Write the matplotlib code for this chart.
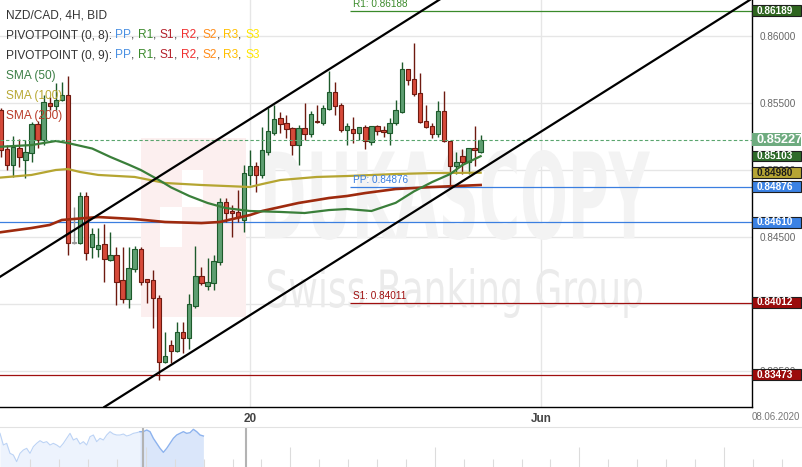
import numpy as np
import matplotlib
matplotlib.use("Agg")
import matplotlib.pyplot as plt
import matplotlib.transforms as mtransforms
from matplotlib.font_manager import FontProperties
from matplotlib.patches import PathPatch, Rectangle
from matplotlib.textpath import TextPath

plt.rcParams["font.family"] = ["Liberation Sans", "DejaVu Sans"]

W, H = 803, 467
PLOT_W, PLOT_H = 752.5, 407

# 4H bars, index 0 = 20 May 00:00 (weekends skipped, 6 bars a day)
bar_idx = np.arange(-41, 39)
opens = [0.85447, 0.85156, 0.85037, 0.85164, 0.85074, 0.85127, 0.85343, 0.85224,
         0.85500, 0.85477, 0.85522, 0.85559, 0.84455, 0.84455, 0.84806, 0.84425,
         0.84411, 0.84448, 0.84328, 0.84366, 0.84179, 0.84038, 0.84261, 0.84411,
         0.84187, 0.84179, 0.84045, 0.83568, 0.83694, 0.83650, 0.83791, 0.83747,
         0.83985, 0.84209, 0.84134, 0.84157, 0.84314, 0.84761, 0.84694, 0.84687,
         0.84627, 0.84963, 0.85030, 0.84963, 0.85134, 0.85276, 0.85388, 0.85350,
         0.85313, 0.85186, 0.85313, 0.85268, 0.85365, 0.85350, 0.85455, 0.85582,
         0.85485, 0.85298, 0.85306, 0.85276, 0.85321, 0.85209, 0.85328, 0.85298,
         0.85276, 0.85350, 0.85432, 0.85753, 0.85679, 0.85574, 0.85365, 0.85328,
         0.85268, 0.85440, 0.85216, 0.85030, 0.85104, 0.85059, 0.85164, 0.85134]
highs = [0.85462, 0.85186, 0.85253, 0.85231, 0.85224, 0.85358, 0.85365, 0.85559,
         0.85544, 0.85649, 0.85656, 0.85701, 0.84724, 0.84836, 0.84836, 0.84567,
         0.84567, 0.84597, 0.84537, 0.84425, 0.84425, 0.84425, 0.84433, 0.84425,
         0.84187, 0.84254, 0.84067, 0.83791, 0.83732, 0.83866, 0.83866, 0.84075,
         0.84433, 0.84276, 0.84343, 0.84366, 0.84791, 0.84791, 0.84739, 0.84851,
         0.85037, 0.85149, 0.85059, 0.85321, 0.85462, 0.85485, 0.85432, 0.85410,
         0.85321, 0.85335, 0.85500, 0.85440, 0.85485, 0.85485, 0.85738, 0.85656,
         0.85500, 0.85350, 0.85395, 0.85321, 0.85335, 0.85328, 0.85335, 0.85328,
         0.85388, 0.85522, 0.85806, 0.85753, 0.85947, 0.85724, 0.85485, 0.85350,
         0.85515, 0.85589, 0.85216, 0.85134, 0.85156, 0.85164, 0.85328, 0.85261]
lows = [0.85097, 0.85000, 0.84948, 0.85022, 0.84940, 0.85059, 0.85164, 0.85186,
        0.85447, 0.85447, 0.85515, 0.84366, 0.84448, 0.84448, 0.84328, 0.84343,
        0.84351, 0.84164, 0.84321, 0.83993, 0.84008, 0.83970, 0.84239, 0.84142,
        0.84008, 0.83821, 0.83433, 0.83560, 0.83560, 0.83642, 0.83635, 0.83668,
        0.83970, 0.84142, 0.84105, 0.84105, 0.84291, 0.84612, 0.84500, 0.84612,
        0.84537, 0.84888, 0.84836, 0.84940, 0.85112, 0.85261, 0.85276, 0.85238,
        0.85112, 0.85037, 0.85224, 0.85246, 0.85350, 0.85335, 0.85447, 0.85410,
        0.85283, 0.85186, 0.85201, 0.85224, 0.85156, 0.85186, 0.85261, 0.85246,
        0.85186, 0.85335, 0.85425, 0.85634, 0.85552, 0.85350, 0.85313, 0.85238,
        0.85246, 0.85209, 0.84873, 0.84970, 0.84970, 0.84970, 0.85030, 0.85127]
closes = [0.85149, 0.85037, 0.85171, 0.85097, 0.85134, 0.85343, 0.85224, 0.85507,
          0.85477, 0.85522, 0.85559, 0.84455, 0.84455, 0.84806, 0.84381, 0.84522,
          0.84440, 0.84336, 0.84366, 0.84164, 0.84038, 0.84269, 0.84411, 0.84164,
          0.84164, 0.84045, 0.83568, 0.83612, 0.83650, 0.83791, 0.83747, 0.84000,
          0.84209, 0.84157, 0.84164, 0.84321, 0.84761, 0.84679, 0.84679, 0.84649,
          0.84977, 0.85030, 0.84963, 0.85149, 0.85291, 0.85380, 0.85343, 0.85306,
          0.85186, 0.85313, 0.85268, 0.85418, 0.85358, 0.85462, 0.85582, 0.85477,
          0.85298, 0.85328, 0.85276, 0.85321, 0.85216, 0.85328, 0.85291, 0.85283,
          0.85350, 0.85447, 0.85753, 0.85671, 0.85567, 0.85358, 0.85321, 0.85268,
          0.85440, 0.85216, 0.85030, 0.85059, 0.85059, 0.85164, 0.85149, 0.85227]

day_ticks = [0, 48]
day_labels = ["20", "Jun"]

price_ticks = [0.835, 0.84, 0.845, 0.85, 0.855, 0.86]
price_labels = ["0.83500", "", "0.84500", "0.85000", "0.85500", "0.86000"]

# moving averages, sampled along the bars
sma50_idx = [-42, -36, -32, -30, -26, -23, -20, -18, -15, -13, -10, -7, -4,
             0, 5, 9, 13, 16, 20, 24, 27, 30, 33, 35, 38]
sma50 = [0.85171, 0.85186, 0.85216, 0.85201, 0.85160, 0.85097, 0.85040, 0.85000,
         0.84925, 0.84870, 0.84806, 0.84754, 0.84716, 0.84694, 0.84687, 0.84679,
         0.84701, 0.84709, 0.84694, 0.84755, 0.84840, 0.84910, 0.84970, 0.85037,
         0.85103]
sma100_idx = [-42, -36, -32, -30, -28, -25, -19, -14, -8, 0, 2, 5, 11, 16, 24, 30, 38]
sma100 = [0.84940, 0.84963, 0.85000, 0.85007, 0.84985, 0.84963, 0.84948, 0.84903,
          0.84888, 0.84873, 0.84895, 0.84925, 0.84948, 0.84955, 0.84970, 0.84977,
          0.84980]
sma200_idx = [-42, -36, -33, -31, -27, -25, -19, -14, -8, -5, 0, 2, 5, 8, 11, 13,
              16, 19, 24, 30, 38]
sma200 = [0.84530, 0.84567, 0.84590, 0.84627, 0.84642, 0.84649, 0.84634, 0.84612,
          0.84604, 0.84612, 0.84664, 0.84694, 0.84724, 0.84754, 0.84776, 0.84791,
          0.84806, 0.84828, 0.84858, 0.84873, 0.84888]

# trend channel, two anchor points per line
chan_upper_x, chan_upper_y = [-42, 32], [0.84180, 0.86293]
chan_lower_x, chan_lower_y = [-24, 83], [0.83232, 0.86287]

# pivot levels
pivot_start = 16.5
r1_new, pp_new, s1_new = 0.86188, 0.84876, 0.84011
pp_old, s1_old = 0.84610, 0.83473
last_price = 0.85227

tag_values = [0.86189, 0.85227, 0.85103, 0.84980, 0.84876, 0.84610, 0.84012, 0.83473]
tag_faces = ["#2e651f", "#6eab7f", "#2e6b2a", "#b6a534", "#3b82e4", "#3b82e4",
             "#9b0b0b", "#9b0b0b"]
tag_text = ["white", "white", "white", "#1a1a1a", "white", "white", "white", "white"]

# overview strip under the chart
nav_level = [90, 55, 60, 30, 25, 5, 30, 40, 45, 30, 50, 60, 68, 62, 65, 55, 60, 55,
             48, 60, 75, 90, 70, 75, 58, 65, 55, 80, 85, 65, 75, 70, 85, 95, 88, 85,
             85, 88, 82, 85, 90, 92, 95, 95, 100, 95, 75, 60, 45, 33, 45, 60, 75, 85,
             90, 95, 90, 92, 102, 95, 85, 82]

GREEN_FILL, GREEN_EDGE = "#5e9e71", "#1d5a2b"
RED_FILL, RED_EDGE = "#d64a3a", "#6e1a10"
GREY = "#9a9a9a"

fig = plt.figure(figsize=(W / 100, H / 100), dpi=100)
ax = fig.add_axes([0, 60 / H, PLOT_W / W, PLOT_H / H])
ax.set_xlim(-41.19, 82.79)
ax.set_ylim(0.83232, 0.86268)
ylo, yhi = ax.get_ylim()
data_per_px = (yhi - ylo) / PLOT_H


def fig_xy(x, y):
    return x / W, 1 - y / H


def text_patch(text, box, weight, color, z):
    left, top, right, bottom = box
    path = TextPath((0, 0), text, size=100,
                    prop=FontProperties(family="DejaVu Sans", weight=weight))
    ext = path.get_extents()
    tr = (mtransforms.Affine2D()
          .translate(-ext.x0, -ext.y0)
          .scale((right - left) / ext.width, (bottom - top) / ext.height)
          .translate(left, H - bottom))
    ax.add_patch(PathPatch(path, transform=tr, facecolor=color,
                           edgecolor="none", zorder=z))


def px_rect(left, top, right, bottom, color, z):
    ax.add_patch(Rectangle((left, H - bottom), right - left, bottom - top,
                           transform=mtransforms.IdentityTransform(),
                           facecolor=color, edgecolor="none", zorder=z))


# watermark
px_rect(141, 138, 246, 317, "#fcefef", 0.8)
px_rect(160, 207, 182, 247, "white", 0.85)
px_rect(182, 170, 203, 207, "white", 0.85)
text_patch("DUKASCOPY", (265, 150, 650, 240), "bold", "#f3f3f3", 0.9)
text_patch("Swiss Banking Group", (268, 268, 642, 318), "normal", "#ebebeb", 0.9)

# grid and frame
ax.set_axisbelow(True)
ax.grid(True, color="#e6e6e6", lw=1.0)
for side in ("top", "left"):
    ax.spines[side].set_visible(False)
for side in ("right", "bottom"):
    ax.spines[side].set_color("black")
    ax.spines[side].set_linewidth(1.0)

ax.yaxis.tick_right()
ax.set_yticks(price_ticks, price_labels)
ax.tick_params(axis="y", length=0, pad=5, labelsize=7.2, labelcolor="#666666")
ax.set_xticks(day_ticks, day_labels)
ax.tick_params(axis="x", length=0, pad=4, labelsize=8.5, labelcolor="#444444")
for lbl in ax.get_xticklabels():
    lbl.set_fontweight("bold")

# pivot levels
ax.axhline(pp_old, color="#3b7fe0", lw=0.9, zorder=2)
ax.axhline(s1_old, color="#a00f0f", lw=0.9, zorder=2)
for val, col, name in [(r1_new, "#3a8a2a", "R1"), (pp_new, "#3b7fe0", "PP"),
                       (s1_new, "#a00f0f", "S1")]:
    ax.hlines(val, pivot_start, ax.get_xlim()[1], color=col, lw=0.9, zorder=2)
    ax.annotate(f"{name}: {val:.5f}", xy=(pivot_start, val), xytext=(3, 1.5),
                textcoords="offset pixels", color=col, fontsize=7.2,
                va="bottom", ha="left", zorder=6)

# candles
o, hi, lo, c = map(np.asarray, (opens, highs, lows, closes))
body_lo = np.minimum(o, c)
body_h = np.maximum(np.abs(c - o), 0.00006)
for mask, face, edge in [(c > o, GREEN_FILL, GREEN_EDGE), (c < o, RED_FILL, RED_EDGE),
                         (c == o, GREY, GREY)]:
    ax.vlines(bar_idx[mask], lo[mask], hi[mask], color=edge, lw=1.0, zorder=3)
    ax.bar(bar_idx[mask], body_h[mask], bottom=body_lo[mask], width=0.72,
           color=face, edgecolor=edge, lw=0.8, zorder=4)

# moving averages
ax.plot(sma100_idx, sma100, color="#b5a531", lw=1.6, zorder=5)
ax.plot(sma200_idx, sma200, color="#9e2a0e", lw=1.9, zorder=5)
ax.plot(sma50_idx, sma50, color="#3a7f3a", lw=1.6, zorder=5)

# channel
ax.plot(chan_upper_x, chan_upper_y, color="black", lw=1.6, zorder=6)
ax.plot(chan_lower_x, chan_lower_y, color="black", lw=1.6, zorder=6)

# last price
ax.axhline(last_price, color="#5aa56e", lw=0.8, ls=(0, (3, 2)), zorder=5)

# price tags on the right axis
blend = mtransforms.blended_transform_factory(ax.transAxes, ax.transData)
for val, face, tc in zip(tag_values, tag_faces, tag_text):
    big = val == last_price
    h = (13 if big else 10.5) * data_per_px
    ax.add_patch(Rectangle((1.0, val - h / 2), 49 / PLOT_W, h, transform=blend,
                           facecolor=face, edgecolor="none" if big else "#1e1e1e",
                           lw=0.8, clip_on=False, zorder=20))
    ax.text(1.0 + 4 / PLOT_W, val, f"{val:.5f}", transform=blend, color=tc,
            fontsize=9.2 if big else 7.2, fontweight="bold", va="center",
            ha="left", clip_on=False, zorder=21)

fig.text(*fig_xy(776, 416.5), "08.06.2020", color="#777777", fontsize=7,
         ha="center", va="center")

# legend block top left
LEG = 8.6
DARK = "#333333"
piv_parts = [("PP", "#4a90e2"), (", ", DARK), ("R1", "#3c8a2e"), (", ", DARK),
             ("S1", "#b3202a"), (", ", DARK), ("R2", "#f03030"), (", ", DARK),
             ("S2", "#ff8c1a"), (", ", DARK), ("R3", "#ffbf00"), (", ", DARK),
             ("S3", "#ffe600")]
legend_rows = [
    (15.5, [("NZD/CAD, 4H, BID", DARK)]),
    (35.5, [("PIVOTPOINT (0, 8): ", DARK)] + piv_parts),
    (55.5, [("PIVOTPOINT (0, 9): ", DARK)] + piv_parts),
    (76, [("SMA (50)", "#3d7f46")]),
    (96.5, [("SMA (100)", "#b8a832")]),
    (116.5, [("SMA (200)", "#b93c28")]),
]
for y, parts in legend_rows:
    prev = fig.text(*fig_xy(6, y), parts[0][0], color=parts[0][1], fontsize=LEG,
                    ha="left", va="center", zorder=10)
    for s, col in parts[1:]:
        prev = ax.annotate(s, xy=(1, 0), xycoords=prev, ha="left", va="bottom",
                           color=col, fontsize=LEG, zorder=10, annotation_clip=False)

# overview strip
nav = fig.add_axes([0, 0, 1, 40 / H])
nav.set_xlim(-1.048, 26.74)
nav.set_ylim(-11, 109)
window_left, window_right = 3.917, 7.48
nav_x = np.linspace(-1.048, 5.99, len(nav_level))
nav_y = np.asarray(nav_level)
left_part = nav_x <= window_left + 1e-9
right_part = nav_x >= window_left - 0.12
nav.fill_between(nav_x[left_part], nav_y[left_part], -11, color="#edf3fd", lw=0)
nav.plot(nav_x[left_part], nav_y[left_part], color="#bcd3f5", lw=0.8)
nav.fill_between(nav_x[right_part], nav_y[right_part], -11, color="#dae6fa", lw=0)
nav.plot(nav_x[right_part], nav_y[right_part], color="#8db3ee", lw=1.0)
for xv in (window_left, window_right):
    nav.axvline(xv, color="#b3b3b3", lw=1.5)
for side in ("left", "right", "bottom"):
    nav.spines[side].set_visible(False)
nav.spines["top"].set_color("#e2e2e2")
nav.set_yticks([])
nav.set_xticks([4, 9, 14, 19, 24])
nav.set_xticks(np.arange(0, 27), minor=True)
nav.tick_params(axis="x", which="major", direction="in", length=14.4, width=0.8,
                color="#dcdcdc", labelbottom=False)
nav.tick_params(axis="x", which="minor", direction="in", length=5.5, width=0.8,
                color="#dcdcdc")

fig.savefig("out.png", dpi=100)
